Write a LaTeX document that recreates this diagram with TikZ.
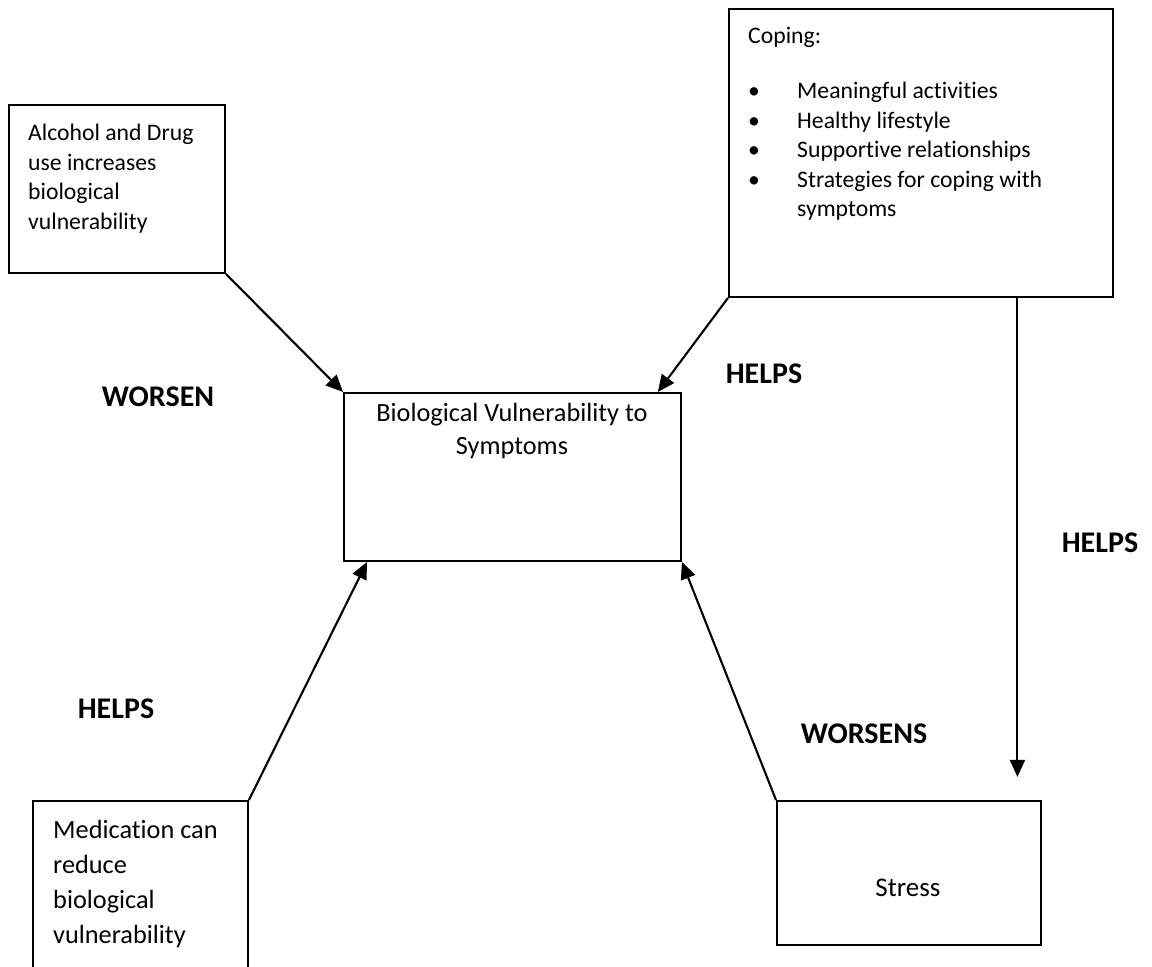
\documentclass[tikz,border=0pt]{standalone}
\usepackage{fontspec}
\setmainfont{Carlito}[Ligatures=NoCommon]
\usetikzlibrary{arrows.meta,calc}
\newcommand{\smalltxt}{\fontsize{23.7}{29.5}\selectfont}
\newcommand{\bigtxt}{\fontsize{26.3}{33}\selectfont}
\tikzset{
  box/.style={draw, line width=1.9pt, inner sep=0pt, anchor=north west},
  txt/.style={inner sep=0pt, anchor=north west, align=left},
  lbl/.style={inner sep=0pt, font=\fontsize{30}{36}\selectfont\bfseries},
  link/.style={line width=2.1pt, -{Triangle[length=17pt,width=15pt]}}
}
\begin{document}
\begin{tikzpicture}[x=1pt,y=-1pt]
\useasboundingbox (0,0) rectangle (1152,967);
\clip (0,0) rectangle (1152,967);
% Alcohol and drug use
\node[box, minimum width=216pt, minimum height=168pt] (alcohol) at (8,104) {};
\node[txt, font=\smalltxt] (alcoholtxt) at (28,124) {Alcohol and Drug\\use increases\\biological\\vulnerability};
% Coping
\node[box, minimum width=384pt, minimum height=288pt] (coping) at (728,8) {};
\node[txt, font=\smalltxt] (copingtxt) at (748,27) {Coping:};
\node[txt, font=\smalltxt] (copinglist) at (748,78) {%
  \begin{tabular}{@{}p{49pt}@{}l@{}}
  \textbullet & Meaningful activities\\
  \textbullet & Healthy lifestyle\\
  \textbullet & Supportive relationships\\
  \textbullet & Strategies for coping with\\
              & symptoms
  \end{tabular}};
% Biological vulnerability
\node[box, minimum width=337pt, minimum height=168pt] (bio) at (343,392) {};
\node[inner sep=0pt, anchor=north, align=center, font=\bigtxt] (biotxt) at (512,403) {Biological Vulnerability to\\Symptoms};
% Medication
\node[box, minimum width=215pt, minimum height=220pt] (medication) at (32,800) {};
\node[txt, font=\fontsize{26.3}{35}\selectfont] (medtxt) at (53,820) {Medication can\\reduce\\biological\\vulnerability};
% Stress
\node[box, minimum width=264pt, minimum height=144pt] (stress) at (776,800) {};
\node[inner sep=0pt, font=\fontsize{27}{33}\selectfont] (stresstxt) at (908,888) {Stress};
% Arrows to bio
\coordinate (biotopin) at ($(bio.north west)!0.929!(bio.north east)$);
\coordinate (biobotin) at ($(bio.south west)!0.071!(bio.south east)$);
\draw[link] (alcohol.south east) -- (bio.north west);
\draw[link] (coping.south west) -- (biotopin);
\draw[link] (medication.north east) -- (biobotin);
\draw[link] (stress.north west) -- (bio.south east);
% Arrow coping to stress
\coordinate (copingout) at ($(coping.south west)!0.75!(coping.south east)$);
\coordinate (stressin) at ($(copingout)+(0,479)$);
\draw[link] (copingout) -- (stressin);
% Labels
\node[lbl] (worsenlbl) at (158,397) {WORSEN};
\node[lbl] (helpstoplbl) at (764,374) {HELPS};
\node[lbl] (helpsrightlbl) at (1100,543) {HELPS};
\node[lbl] (helpsleftlbl) at (116,709) {HELPS};
\node[lbl] (worsenslbl) at (864,734) {WORSENS};
\end{tikzpicture}
\end{document}
